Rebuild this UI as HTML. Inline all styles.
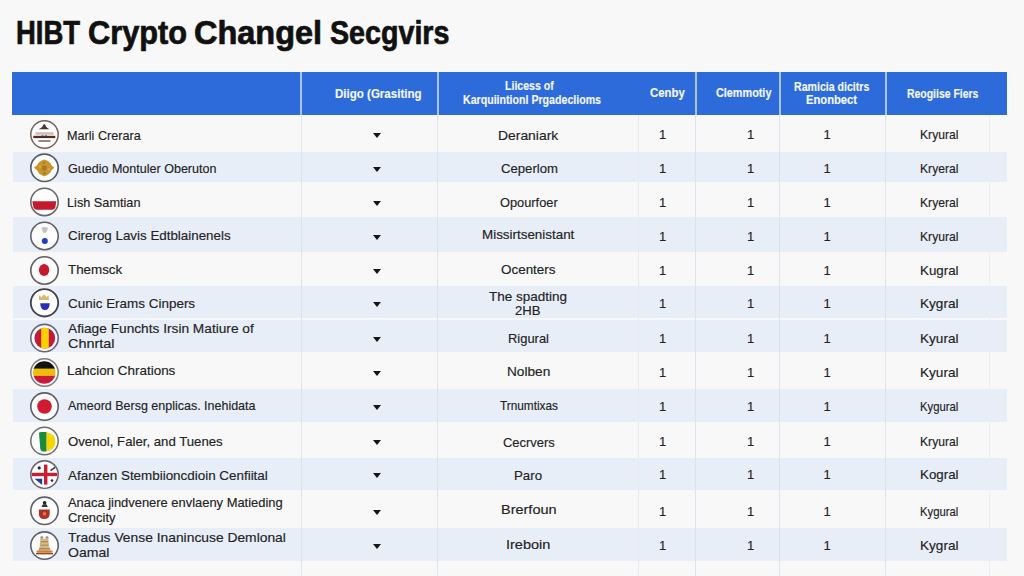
<!DOCTYPE html><html><head><meta charset="utf-8"><style>
html,body{margin:0;padding:0;}
body{width:1024px;height:576px;overflow:hidden;background:#f8f8f8;position:relative;font-family:"Liberation Sans",sans-serif;}
.t{position:absolute;white-space:nowrap;transform-origin:0 0;}
.r{position:absolute;left:13px;width:994px;}
.v{position:absolute;width:1px;}
.ic{position:absolute;}
</style></head><body>

<div class="r" style="top:115px;height:36.5px;background:#f8f8f8"></div>
<div class="r" style="top:151.5px;height:30.69999999999999px;background:#e8eef8"></div>
<div class="r" style="top:182.2px;height:34.80000000000001px;background:#f8f8f8"></div>
<div class="r" style="top:217px;height:34.5px;background:#e8eef8"></div>
<div class="r" style="top:251.5px;height:34.10000000000002px;background:#f8f8f8"></div>
<div class="r" style="top:285.6px;height:32.0px;background:#e8eef8"></div>
<div class="r" style="top:317.6px;height:34.799999999999955px;background:#e8eef8"></div>
<div class="r" style="top:352.4px;height:36.60000000000002px;background:#f8f8f8"></div>
<div class="r" style="top:389px;height:32.69999999999999px;background:#e8eef8"></div>
<div class="r" style="top:421.7px;height:35.900000000000034px;background:#f8f8f8"></div>
<div class="r" style="top:457.6px;height:32.69999999999999px;background:#e8eef8"></div>
<div class="r" style="top:490.3px;height:37.69999999999999px;background:#f8f8f8"></div>
<div class="r" style="top:528px;height:33.299999999999955px;background:#e8eef8"></div>
<div class="r" style="top:561.3px;height:38.700000000000045px;background:#f8f8f8"></div>
<div class="r" style="top:318px;height:1.6px;background:#f6f8fc"></div>
<div class="v" style="left:300.5px;top:115px;height:461px;background:#dbe3ee"></div>
<div class="v" style="left:437px;top:115px;height:461px;background:#dbe3ee"></div>
<div class="v" style="left:637.5px;top:115px;height:461px;background:#e6ebf2"></div>
<div class="v" style="left:694.8px;top:115px;height:461px;background:#dbe3ee"></div>
<div class="v" style="left:779px;top:115px;height:461px;background:#dbe3ee"></div>
<div class="v" style="left:885px;top:115px;height:461px;background:#dbe3ee"></div>
<div class="v" style="left:989px;top:115px;height:461px;background:#eceef2"></div>
<div style="position:absolute;left:12px;top:72px;width:995px;height:43px;background:#2d6bdb"></div>
<div style="position:absolute;left:300px;top:72px;width:2px;height:43px;background:#a9c4f0"></div>
<div style="position:absolute;left:437px;top:72px;width:2px;height:43px;background:#a9c4f0"></div>
<div style="position:absolute;left:695px;top:72px;width:2px;height:43px;background:#a9c4f0"></div>
<div style="position:absolute;left:779px;top:72px;width:2px;height:43px;background:#a9c4f0"></div>
<div style="position:absolute;left:884.5px;top:72px;width:2px;height:43px;background:#a9c4f0"></div>
<div class="t" style="left:16.11px;top:17.48px;font-size:32.5px;line-height:32.5px;font-weight:700;color:#111111;transform:scaleX(0.8449);-webkit-text-stroke:0.7px #111;">HIBT</div>
<div class="t" style="left:87.86px;top:17.48px;font-size:32.5px;line-height:32.5px;font-weight:700;color:#111111;transform:scaleX(0.9449);-webkit-text-stroke:0.7px #111;">Crypto</div>
<div class="t" style="left:193.80px;top:17.48px;font-size:32.5px;line-height:32.5px;font-weight:700;color:#111111;transform:scaleX(0.9986);-webkit-text-stroke:0.7px #111;">Changel</div>
<div class="t" style="left:330.00px;top:17.48px;font-size:32.5px;line-height:32.5px;font-weight:700;color:#111111;transform:scaleX(0.8815);-webkit-text-stroke:0.7px #111;">Secgvirs</div>
<div class="t" style="left:334.60px;top:87.84px;font-size:12px;line-height:12px;font-weight:700;color:#f4f7fd;transform:scaleX(0.9613);-webkit-text-stroke:0.15px #f4f7fd;">Diigo (Grasiting</div>
<div class="t" style="left:504.70px;top:80.24px;font-size:12px;line-height:12px;font-weight:700;color:#f4f7fd;transform:scaleX(0.8819);-webkit-text-stroke:0.15px #f4f7fd;">Liicess of</div>
<div class="t" style="left:462.50px;top:94.34px;font-size:12px;line-height:12px;font-weight:700;color:#f4f7fd;transform:scaleX(0.8846);-webkit-text-stroke:0.15px #f4f7fd;">Karquiintionl Prgadeclioms</div>
<div class="t" style="left:650.00px;top:87.44px;font-size:12px;line-height:12px;font-weight:700;color:#f4f7fd;transform:scaleX(0.9459);-webkit-text-stroke:0.15px #f4f7fd;">Cenby</div>
<div class="t" style="left:715.70px;top:87.44px;font-size:12px;line-height:12px;font-weight:700;color:#f4f7fd;transform:scaleX(0.9031);-webkit-text-stroke:0.15px #f4f7fd;">Clemmotiy</div>
<div class="t" style="left:793.50px;top:80.64px;font-size:12px;line-height:12px;font-weight:700;color:#f4f7fd;transform:scaleX(0.8822);-webkit-text-stroke:0.15px #f4f7fd;">Ramicia dicitrs</div>
<div class="t" style="left:806.40px;top:94.04px;font-size:12px;line-height:12px;font-weight:700;color:#f4f7fd;transform:scaleX(0.9328);-webkit-text-stroke:0.15px #f4f7fd;">Enonbect</div>
<div class="t" style="left:906.70px;top:87.74px;font-size:12px;line-height:12px;font-weight:700;color:#f4f7fd;transform:scaleX(0.8706);-webkit-text-stroke:0.15px #f4f7fd;">Reogiise Fiers</div>
<div class="t" style="left:67.23px;top:128.69px;font-size:13px;line-height:13px;font-weight:400;color:#222222;transform:scaleX(0.9721);-webkit-text-stroke:0.15px #222222;">Marli Crerara</div>
<div class="t" style="left:68.20px;top:161.99px;font-size:13px;line-height:13px;font-weight:400;color:#222222;transform:scaleX(0.9643);-webkit-text-stroke:0.15px #222222;">Guedio Montuler Oberuton</div>
<div class="t" style="left:67.22px;top:195.89px;font-size:13px;line-height:13px;font-weight:400;color:#222222;transform:scaleX(0.9781);-webkit-text-stroke:0.15px #222222;">Lish Samtian</div>
<div class="t" style="left:68.20px;top:228.69px;font-size:13px;line-height:13px;font-weight:400;color:#222222;transform:scaleX(1.0274);-webkit-text-stroke:0.15px #222222;">Cirerog Lavis Edtblainenels</div>
<div class="t" style="left:68.20px;top:263.49px;font-size:13px;line-height:13px;font-weight:400;color:#222222;transform:scaleX(1.0276);-webkit-text-stroke:0.15px #222222;">Themsck</div>
<div class="t" style="left:68.20px;top:296.59px;font-size:13px;line-height:13px;font-weight:400;color:#222222;transform:scaleX(1.0348);-webkit-text-stroke:0.15px #222222;">Cunic Erams Cinpers</div>
<div class="t" style="left:68.20px;top:321.69px;font-size:13px;line-height:13px;font-weight:400;color:#222222;transform:scaleX(1.0538);-webkit-text-stroke:0.15px #222222;">Afiage Funchts Irsin Matiure of</div>
<div class="t" style="left:68.20px;top:337.39px;font-size:13px;line-height:13px;font-weight:400;color:#222222;transform:scaleX(1.1090);-webkit-text-stroke:0.15px #222222;">Chnrtal</div>
<div class="t" style="left:67.17px;top:364.19px;font-size:13px;line-height:13px;font-weight:400;color:#222222;transform:scaleX(1.0337);-webkit-text-stroke:0.15px #222222;">Lahcion Chrations</div>
<div class="t" style="left:68.20px;top:399.29px;font-size:13px;line-height:13px;font-weight:400;color:#222222;transform:scaleX(0.9608);-webkit-text-stroke:0.15px #222222;">Ameord Bersg enplicas. Inehidata</div>
<div class="t" style="left:68.20px;top:435.39px;font-size:13px;line-height:13px;font-weight:400;color:#222222;transform:scaleX(1.0142);-webkit-text-stroke:0.15px #222222;">Ovenol, Faler, and Tuenes</div>
<div class="t" style="left:68.20px;top:468.99px;font-size:13px;line-height:13px;font-weight:400;color:#222222;transform:scaleX(1.0316);-webkit-text-stroke:0.15px #222222;">Afanzen Stembiioncdioin Cenfiital</div>
<div class="t" style="left:68.20px;top:495.89px;font-size:13px;line-height:13px;font-weight:400;color:#222222;transform:scaleX(0.9933);-webkit-text-stroke:0.15px #222222;">Anaca jindvenere envlaeny Matieding</div>
<div class="t" style="left:68.20px;top:510.59px;font-size:13px;line-height:13px;font-weight:400;color:#222222;transform:scaleX(0.9963);-webkit-text-stroke:0.15px #222222;">Crencity</div>
<div class="t" style="left:68.20px;top:530.99px;font-size:13px;line-height:13px;font-weight:400;color:#222222;transform:scaleX(1.0641);-webkit-text-stroke:0.15px #222222;">Tradus Vense Inanincuse Demlonal</div>
<div class="t" style="left:68.20px;top:545.79px;font-size:13px;line-height:13px;font-weight:400;color:#222222;transform:scaleX(1.0807);-webkit-text-stroke:0.15px #222222;">Oamal</div>
<div class="t" style="left:497.53px;top:128.99px;font-size:13px;line-height:13px;font-weight:400;color:#222222;transform:scaleX(1.0688);-webkit-text-stroke:0.15px #222222;">Deraniark</div>
<div class="t" style="left:500.60px;top:162.29px;font-size:13px;line-height:13px;font-weight:400;color:#222222;transform:scaleX(1.0103);-webkit-text-stroke:0.15px #222222;">Ceperlom</div>
<div class="t" style="left:500.00px;top:195.69px;font-size:13px;line-height:13px;font-weight:400;color:#222222;transform:scaleX(0.9848);-webkit-text-stroke:0.15px #222222;">Opourfoer</div>
<div class="t" style="left:482.27px;top:228.39px;font-size:13px;line-height:13px;font-weight:400;color:#222222;transform:scaleX(1.0307);-webkit-text-stroke:0.15px #222222;">Missirtsenistant</div>
<div class="t" style="left:500.60px;top:263.19px;font-size:13px;line-height:13px;font-weight:400;color:#222222;transform:scaleX(1.0330);-webkit-text-stroke:0.15px #222222;">Ocenters</div>
<div class="t" style="left:489.20px;top:289.69px;font-size:13px;line-height:13px;font-weight:400;color:#222222;transform:scaleX(1.0383);-webkit-text-stroke:0.15px #222222;">The spadting</div>
<div class="t" style="left:515.40px;top:304.19px;font-size:13px;line-height:13px;font-weight:400;color:#222222;transform:scaleX(1.0074);-webkit-text-stroke:0.15px #222222;">2HB</div>
<div class="t" style="left:507.60px;top:331.69px;font-size:13px;line-height:13px;font-weight:400;color:#222222;transform:scaleX(0.9952);-webkit-text-stroke:0.15px #222222;">Rigural</div>
<div class="t" style="left:506.95px;top:364.99px;font-size:13px;line-height:13px;font-weight:400;color:#222222;transform:scaleX(1.0509);-webkit-text-stroke:0.15px #222222;">Nolben</div>
<div class="t" style="left:500.00px;top:399.49px;font-size:13px;line-height:13px;font-weight:400;color:#222222;transform:scaleX(0.9081);-webkit-text-stroke:0.15px #222222;">Trnumtixas</div>
<div class="t" style="left:502.50px;top:435.69px;font-size:13px;line-height:13px;font-weight:400;color:#222222;transform:scaleX(0.9961);-webkit-text-stroke:0.15px #222222;">Cecrvers</div>
<div class="t" style="left:514.38px;top:468.59px;font-size:13px;line-height:13px;font-weight:400;color:#222222;transform:scaleX(1.0217);-webkit-text-stroke:0.15px #222222;">Paro</div>
<div class="t" style="left:500.69px;top:503.29px;font-size:13px;line-height:13px;font-weight:400;color:#222222;transform:scaleX(1.1145);-webkit-text-stroke:0.15px #222222;">Brerfoun</div>
<div class="t" style="left:506.28px;top:538.29px;font-size:13px;line-height:13px;font-weight:400;color:#222222;transform:scaleX(1.1163);-webkit-text-stroke:0.15px #222222;">Ireboin</div>
<div class="t" style="left:659.00px;top:128.29px;font-size:13px;line-height:13px;font-weight:400;color:#222222;-webkit-text-stroke:0.15px #222222;">1</div>
<div class="t" style="left:746.90px;top:128.29px;font-size:13px;line-height:13px;font-weight:400;color:#222222;-webkit-text-stroke:0.15px #222222;">1</div>
<div class="t" style="left:823.50px;top:128.29px;font-size:13px;line-height:13px;font-weight:400;color:#222222;-webkit-text-stroke:0.15px #222222;">1</div>
<div class="t" style="left:919.77px;top:128.29px;font-size:13px;line-height:13px;font-weight:400;color:#222222;transform:scaleX(0.9333);-webkit-text-stroke:0.15px #222222;">Kryural</div>
<div class="t" style="left:659.00px;top:161.59px;font-size:13px;line-height:13px;font-weight:400;color:#222222;-webkit-text-stroke:0.15px #222222;">1</div>
<div class="t" style="left:746.90px;top:161.59px;font-size:13px;line-height:13px;font-weight:400;color:#222222;-webkit-text-stroke:0.15px #222222;">1</div>
<div class="t" style="left:823.50px;top:161.59px;font-size:13px;line-height:13px;font-weight:400;color:#222222;-webkit-text-stroke:0.15px #222222;">1</div>
<div class="t" style="left:919.77px;top:161.59px;font-size:13px;line-height:13px;font-weight:400;color:#222222;transform:scaleX(0.9333);-webkit-text-stroke:0.15px #222222;">Kryeral</div>
<div class="t" style="left:659.00px;top:195.69px;font-size:13px;line-height:13px;font-weight:400;color:#222222;-webkit-text-stroke:0.15px #222222;">1</div>
<div class="t" style="left:746.90px;top:195.69px;font-size:13px;line-height:13px;font-weight:400;color:#222222;-webkit-text-stroke:0.15px #222222;">1</div>
<div class="t" style="left:823.50px;top:195.69px;font-size:13px;line-height:13px;font-weight:400;color:#222222;-webkit-text-stroke:0.15px #222222;">1</div>
<div class="t" style="left:919.77px;top:195.69px;font-size:13px;line-height:13px;font-weight:400;color:#222222;transform:scaleX(0.9333);-webkit-text-stroke:0.15px #222222;">Kryeral</div>
<div class="t" style="left:659.00px;top:229.79px;font-size:13px;line-height:13px;font-weight:400;color:#222222;-webkit-text-stroke:0.15px #222222;">1</div>
<div class="t" style="left:746.90px;top:229.79px;font-size:13px;line-height:13px;font-weight:400;color:#222222;-webkit-text-stroke:0.15px #222222;">1</div>
<div class="t" style="left:823.50px;top:229.79px;font-size:13px;line-height:13px;font-weight:400;color:#222222;-webkit-text-stroke:0.15px #222222;">1</div>
<div class="t" style="left:919.77px;top:229.79px;font-size:13px;line-height:13px;font-weight:400;color:#222222;transform:scaleX(0.9333);-webkit-text-stroke:0.15px #222222;">Kryural</div>
<div class="t" style="left:659.00px;top:264.29px;font-size:13px;line-height:13px;font-weight:400;color:#222222;-webkit-text-stroke:0.15px #222222;">1</div>
<div class="t" style="left:746.90px;top:264.29px;font-size:13px;line-height:13px;font-weight:400;color:#222222;-webkit-text-stroke:0.15px #222222;">1</div>
<div class="t" style="left:823.50px;top:264.29px;font-size:13px;line-height:13px;font-weight:400;color:#222222;-webkit-text-stroke:0.15px #222222;">1</div>
<div class="t" style="left:919.68px;top:264.29px;font-size:13px;line-height:13px;font-weight:400;color:#222222;transform:scaleX(1.0248);-webkit-text-stroke:0.15px #222222;">Kugral</div>
<div class="t" style="left:659.00px;top:296.59px;font-size:13px;line-height:13px;font-weight:400;color:#222222;-webkit-text-stroke:0.15px #222222;">1</div>
<div class="t" style="left:746.90px;top:296.59px;font-size:13px;line-height:13px;font-weight:400;color:#222222;-webkit-text-stroke:0.15px #222222;">1</div>
<div class="t" style="left:823.50px;top:296.59px;font-size:13px;line-height:13px;font-weight:400;color:#222222;-webkit-text-stroke:0.15px #222222;">1</div>
<div class="t" style="left:919.65px;top:296.59px;font-size:13px;line-height:13px;font-weight:400;color:#222222;transform:scaleX(1.0456);-webkit-text-stroke:0.15px #222222;">Kygral</div>
<div class="t" style="left:659.00px;top:331.89px;font-size:13px;line-height:13px;font-weight:400;color:#222222;-webkit-text-stroke:0.15px #222222;">1</div>
<div class="t" style="left:746.90px;top:331.89px;font-size:13px;line-height:13px;font-weight:400;color:#222222;-webkit-text-stroke:0.15px #222222;">1</div>
<div class="t" style="left:823.50px;top:331.89px;font-size:13px;line-height:13px;font-weight:400;color:#222222;-webkit-text-stroke:0.15px #222222;">1</div>
<div class="t" style="left:919.65px;top:331.89px;font-size:13px;line-height:13px;font-weight:400;color:#222222;transform:scaleX(1.0456);-webkit-text-stroke:0.15px #222222;">Kyural</div>
<div class="t" style="left:659.00px;top:366.29px;font-size:13px;line-height:13px;font-weight:400;color:#222222;-webkit-text-stroke:0.15px #222222;">1</div>
<div class="t" style="left:746.90px;top:366.29px;font-size:13px;line-height:13px;font-weight:400;color:#222222;-webkit-text-stroke:0.15px #222222;">1</div>
<div class="t" style="left:823.50px;top:366.29px;font-size:13px;line-height:13px;font-weight:400;color:#222222;-webkit-text-stroke:0.15px #222222;">1</div>
<div class="t" style="left:919.65px;top:366.29px;font-size:13px;line-height:13px;font-weight:400;color:#222222;transform:scaleX(1.0456);-webkit-text-stroke:0.15px #222222;">Kyural</div>
<div class="t" style="left:659.00px;top:400.39px;font-size:13px;line-height:13px;font-weight:400;color:#222222;-webkit-text-stroke:0.15px #222222;">1</div>
<div class="t" style="left:746.90px;top:400.39px;font-size:13px;line-height:13px;font-weight:400;color:#222222;-webkit-text-stroke:0.15px #222222;">1</div>
<div class="t" style="left:823.50px;top:400.39px;font-size:13px;line-height:13px;font-weight:400;color:#222222;-webkit-text-stroke:0.15px #222222;">1</div>
<div class="t" style="left:919.83px;top:400.39px;font-size:13px;line-height:13px;font-weight:400;color:#222222;transform:scaleX(0.8706);-webkit-text-stroke:0.15px #222222;">Kygural</div>
<div class="t" style="left:659.00px;top:434.79px;font-size:13px;line-height:13px;font-weight:400;color:#222222;-webkit-text-stroke:0.15px #222222;">1</div>
<div class="t" style="left:746.90px;top:434.79px;font-size:13px;line-height:13px;font-weight:400;color:#222222;-webkit-text-stroke:0.15px #222222;">1</div>
<div class="t" style="left:823.50px;top:434.79px;font-size:13px;line-height:13px;font-weight:400;color:#222222;-webkit-text-stroke:0.15px #222222;">1</div>
<div class="t" style="left:919.77px;top:434.79px;font-size:13px;line-height:13px;font-weight:400;color:#222222;transform:scaleX(0.9333);-webkit-text-stroke:0.15px #222222;">Kryural</div>
<div class="t" style="left:659.00px;top:468.39px;font-size:13px;line-height:13px;font-weight:400;color:#222222;-webkit-text-stroke:0.15px #222222;">1</div>
<div class="t" style="left:746.90px;top:468.39px;font-size:13px;line-height:13px;font-weight:400;color:#222222;-webkit-text-stroke:0.15px #222222;">1</div>
<div class="t" style="left:823.50px;top:468.39px;font-size:13px;line-height:13px;font-weight:400;color:#222222;-webkit-text-stroke:0.15px #222222;">1</div>
<div class="t" style="left:919.68px;top:468.39px;font-size:13px;line-height:13px;font-weight:400;color:#222222;transform:scaleX(1.0248);-webkit-text-stroke:0.15px #222222;">Kogral</div>
<div class="t" style="left:659.00px;top:504.59px;font-size:13px;line-height:13px;font-weight:400;color:#222222;-webkit-text-stroke:0.15px #222222;">1</div>
<div class="t" style="left:746.90px;top:504.59px;font-size:13px;line-height:13px;font-weight:400;color:#222222;-webkit-text-stroke:0.15px #222222;">1</div>
<div class="t" style="left:823.50px;top:504.59px;font-size:13px;line-height:13px;font-weight:400;color:#222222;-webkit-text-stroke:0.15px #222222;">1</div>
<div class="t" style="left:919.83px;top:504.59px;font-size:13px;line-height:13px;font-weight:400;color:#222222;transform:scaleX(0.8706);-webkit-text-stroke:0.15px #222222;">Kygural</div>
<div class="t" style="left:659.00px;top:539.39px;font-size:13px;line-height:13px;font-weight:400;color:#222222;-webkit-text-stroke:0.15px #222222;">1</div>
<div class="t" style="left:746.90px;top:539.39px;font-size:13px;line-height:13px;font-weight:400;color:#222222;-webkit-text-stroke:0.15px #222222;">1</div>
<div class="t" style="left:823.50px;top:539.39px;font-size:13px;line-height:13px;font-weight:400;color:#222222;-webkit-text-stroke:0.15px #222222;">1</div>
<div class="t" style="left:919.65px;top:539.39px;font-size:13px;line-height:13px;font-weight:400;color:#222222;transform:scaleX(1.0456);-webkit-text-stroke:0.15px #222222;">Kygral</div>
<div class="t" style="left:30.00px;top:573.89px;font-size:13px;line-height:13px;font-weight:400;color:#777;transform:scaleX(1.1198);-webkit-text-stroke:0.15px #777;">Aklhi   tlhdks   lklfhi   Mldlhtih</div>
<div class="t" style="left:500.00px;top:573.89px;font-size:13px;line-height:13px;font-weight:400;color:#777;transform:scaleX(1.3437);-webkit-text-stroke:0.15px #777;">Tlhkdlh</div>
<div class="t" style="left:659.00px;top:573.89px;font-size:13px;line-height:13px;font-weight:400;color:#777;-webkit-text-stroke:0.15px #777;">1</div>
<div class="t" style="left:746.90px;top:573.89px;font-size:13px;line-height:13px;font-weight:400;color:#777;-webkit-text-stroke:0.15px #777;">1</div>
<div class="t" style="left:823.50px;top:573.89px;font-size:13px;line-height:13px;font-weight:400;color:#777;-webkit-text-stroke:0.15px #777;">1</div>
<div class="t" style="left:919.77px;top:573.89px;font-size:13px;line-height:13px;font-weight:400;color:#777;transform:scaleX(0.9333);-webkit-text-stroke:0.15px #777;">Kryural</div>
<div style="position:absolute;left:373px;top:133.3px;width:0;height:0;border-left:4px solid transparent;border-right:4px solid transparent;border-top:5px solid #151515"></div>
<div style="position:absolute;left:373px;top:166.60000000000002px;width:0;height:0;border-left:4px solid transparent;border-right:4px solid transparent;border-top:5px solid #151515"></div>
<div style="position:absolute;left:373px;top:200.70000000000002px;width:0;height:0;border-left:4px solid transparent;border-right:4px solid transparent;border-top:5px solid #151515"></div>
<div style="position:absolute;left:373px;top:234.8px;width:0;height:0;border-left:4px solid transparent;border-right:4px solid transparent;border-top:5px solid #151515"></div>
<div style="position:absolute;left:373px;top:269.3px;width:0;height:0;border-left:4px solid transparent;border-right:4px solid transparent;border-top:5px solid #151515"></div>
<div style="position:absolute;left:373px;top:301.6px;width:0;height:0;border-left:4px solid transparent;border-right:4px solid transparent;border-top:5px solid #151515"></div>
<div style="position:absolute;left:373px;top:336.90000000000003px;width:0;height:0;border-left:4px solid transparent;border-right:4px solid transparent;border-top:5px solid #151515"></div>
<div style="position:absolute;left:373px;top:371.3px;width:0;height:0;border-left:4px solid transparent;border-right:4px solid transparent;border-top:5px solid #151515"></div>
<div style="position:absolute;left:373px;top:405.40000000000003px;width:0;height:0;border-left:4px solid transparent;border-right:4px solid transparent;border-top:5px solid #151515"></div>
<div style="position:absolute;left:373px;top:439.8px;width:0;height:0;border-left:4px solid transparent;border-right:4px solid transparent;border-top:5px solid #151515"></div>
<div style="position:absolute;left:373px;top:473.40000000000003px;width:0;height:0;border-left:4px solid transparent;border-right:4px solid transparent;border-top:5px solid #151515"></div>
<div style="position:absolute;left:373px;top:509.6px;width:0;height:0;border-left:4px solid transparent;border-right:4px solid transparent;border-top:5px solid #151515"></div>
<div style="position:absolute;left:373px;top:544.4px;width:0;height:0;border-left:4px solid transparent;border-right:4px solid transparent;border-top:5px solid #151515"></div>
<svg style="position:absolute;left:0;top:0" width="80" height="576" viewBox="0 0 80 576"><circle cx="44.5" cy="134.5" r="13.7" fill="#fdfdfd" stroke="#7d5e58" stroke-width="1.5"/><path d="M38.5 129.2 Q41.5 128.2 42.5 126.5 Q43.2 124.0 44.3 124.0 Q45.4 124.0 46 126.5 Q47 128.2 49.5 129.2 Z" fill="#4e3430"/><rect x="35.5" y="132.2" width="18" height="2.6" fill="#c8aaa2" opacity="0.8"/><rect x="33.3" y="135.8" width="22" height="2.3" fill="#5a2a1c"/><rect x="41.5" y="135.5" width="2" height="2.4" fill="#1a3a4a"/><rect x="45" y="135.5" width="2" height="2.4" fill="#1a3a4a"/><rect x="38.5" y="140.1" width="12" height="1.8" fill="#6a5a56" opacity="0.8"/><circle cx="44.5" cy="167.8" r="13.7" fill="#fdfdfd" stroke="#585c68" stroke-width="1.7"/><path d="M44.3 159.60000000000002 Q50 161.3 51.5 165.3 L54.4 167.8 L51.5 170.3 Q50 174.60000000000002 44.3 176.4 Q38.6 174.60000000000002 37.1 170.3 L33.8 167.8 L37.1 165.3 Q38.6 161.3 44.3 159.60000000000002 Z" fill="#c8952c"/><circle cx="44.3" cy="168.10000000000002" r="2.6" fill="#a87a22"/><circle cx="40" cy="166.8" r="1" fill="#e0b450"/><circle cx="48.5" cy="169.3" r="1" fill="#e0b450"/><circle cx="44" cy="162.8" r="0.9" fill="#9a6a1a"/><circle cx="44.5" cy="173.3" r="0.9" fill="#8a6020"/><circle cx="44.5" cy="201.9" r="13.7" fill="#fdfdfd" stroke="#66666c" stroke-width="1.6"/><path d="M32.3 201.20000000000002 L56.3 201.20000000000002 L55.3 207.4 Q54.5 209.70000000000002 52 209.70000000000002 L37 209.70000000000002 Q34.5 209.70000000000002 33.5 207.4 Z" fill="#c41a2e"/><circle cx="44.5" cy="236.0" r="13.7" fill="#fdfdfd" stroke="#606068" stroke-width="1.6"/><path d="M41.2 227.7 Q44.7 226.5 48.2 227.7 L46.2 232.8 L43.2 232.8 Z" fill="#c4c4bc"/><circle cx="44.8" cy="240.9" r="3" fill="#1e3ec0"/><circle cx="44.5" cy="270.5" r="13.7" fill="#fdfdfd" stroke="#606064" stroke-width="1.6"/><ellipse cx="44.1" cy="270.1" rx="5.2" ry="6" fill="#c61a2c"/><circle cx="44.5" cy="302.8" r="13.7" fill="#fdfdfd" stroke="#404048" stroke-width="1.8"/><path d="M39 299.90000000000003 L39 295.3 L41.5 297.3 L44 294.3 L46.5 297.3 L48.8 295.3 L48.8 299.90000000000003 Z" fill="#dcb868"/><path d="M40.2 303.2 L49.7 303.2 Q49.5 310.0 45 310.0 Q40.4 310.0 40.2 303.2 Z" fill="#2a2eb4"/><circle cx="44.5" cy="338.1" r="13.7" fill="#fdfdfd" stroke="#6a6478" stroke-width="1.6"/><clipPath id="k7"><circle cx="44.8" cy="338.1" r="10.4"/></clipPath><g clip-path="url(#k7)"><rect x="33" y="327.1" width="24" height="22" fill="#c21a3c"/><rect x="41.2" y="327.1" width="7.6" height="22" fill="#f7d200"/></g><circle cx="44.5" cy="372.5" r="13.7" fill="#fdfdfd" stroke="#7a7a7e" stroke-width="1.5"/><clipPath id="k8"><circle cx="44.3" cy="372.5" r="11.2"/></clipPath><g clip-path="url(#k8)"><rect x="32" y="360.5" width="25" height="8.3" fill="#151212"/><rect x="32" y="368.8" width="25" height="7" fill="#f2bc00"/><rect x="32" y="375.8" width="25" height="9" fill="#c81a3a"/></g><circle cx="44.5" cy="406.6" r="13.7" fill="#fdfdfd" stroke="#5c5c64" stroke-width="1.6"/><circle cx="44.5" cy="406.5" r="7.3" fill="#d01c32"/><circle cx="44.5" cy="441.0" r="13.7" fill="#fdfdfd" stroke="#6e6e70" stroke-width="1.5"/><path d="M46.4 432.0 Q55.6 434.0 55.4 442.0 Q55 450.0 46.4 451.4 Z" fill="#f6d600"/><path d="M39 433.0 Q39 432.0 42 432.0 L46.4 432.0 L46.4 451.4 L43 451.4 Q40.5 451.4 40.3 449.0 Z" fill="#1a8a3c"/><circle cx="44.5" cy="474.6" r="13.7" fill="#fdfdfd" stroke="#66666e" stroke-width="1.6"/><clipPath id="k11"><circle cx="44.5" cy="474.6" r="12.8"/></clipPath><g clip-path="url(#k11)"><path d="M34.5 478.8 L42.2 478.8 L42.2 485.1 Z" fill="#1e3c9c"/><circle cx="52" cy="480.6" r="1.3" fill="#2a2a55"/><circle cx="39.2" cy="467.90000000000003" r="1.6" fill="#222244"/><path d="M50.5 470.6 L56 466.6" stroke="#333344" stroke-width="1.4"/><rect x="30" y="472.20000000000005" width="30" height="4.6" fill="#fff"/><rect x="42.8" y="460.6" width="5.8" height="28" fill="#fff"/><rect x="30" y="472.8" width="30" height="3.4" fill="#cc1c30"/><rect x="44" y="464.6" width="3.4" height="20" fill="#cc1c30"/></g><circle cx="44.5" cy="510.8" r="13.7" fill="#fdfdfd" stroke="#606068" stroke-width="1.6"/><circle cx="44.6" cy="502.8" r="1.8" fill="#222"/><path d="M41.5 507.0 Q42.5 503.6 44.6 504.2 Q47 503.6 47.8 507.0 Z" fill="#333"/><path d="M38.9 509.5 L49.7 509.5 L49.7 513.8 Q49.7 519.0 44.3 519.0 Q38.9 519.0 38.9 513.8 Z" fill="#b03222"/><rect x="43" y="512.3" width="3" height="3" fill="#e07a50"/><circle cx="44.5" cy="545.6" r="13.7" fill="#fdfdfd" stroke="#606068" stroke-width="1.6"/><circle cx="41.8" cy="537.4" r="1.5" fill="#8898b0"/><circle cx="47" cy="537.4" r="1.5" fill="#8898b0"/><path d="M40.2 538.6 L48.4 538.6 L49.2 547.6 L52.7 553.8000000000001 L36.4 553.8000000000001 L39.6 547.6 Z" fill="#d6b884"/><rect x="41" y="541.1" width="7" height="1.2" fill="#a88a50"/><rect x="40.5" y="544.6" width="8" height="1.2" fill="#b09060"/><rect x="39" y="548.1" width="11" height="1.2" fill="#b08050"/><rect x="36.6" y="550.6" width="16" height="1.5" fill="#d07a40"/><rect x="36" y="552.8000000000001" width="17" height="1.6" fill="#9a4a22"/></svg>
</body></html>
